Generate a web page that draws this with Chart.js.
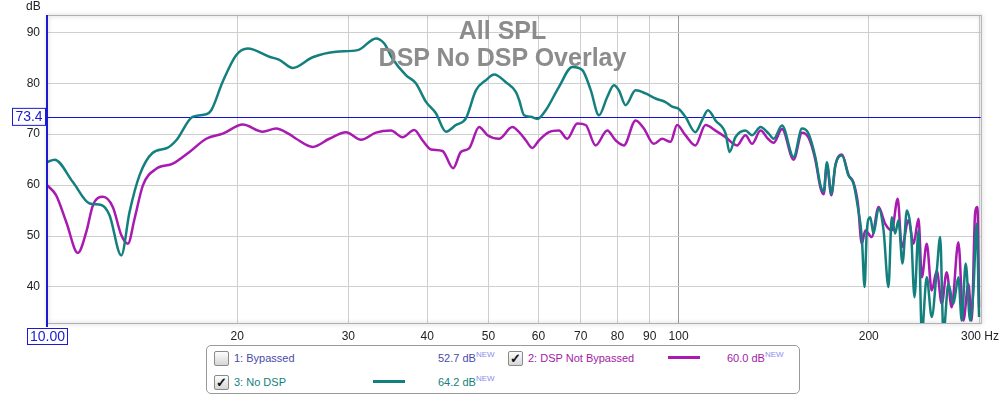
<!DOCTYPE html>
<html>
<head>
<meta charset="utf-8">
<script src="https://cdn.jsdelivr.net/npm/chart.js@4.4.1/dist/chart.umd.min.js"></script>
<style>
    body { margin: 0; background: #fff; font-family: "Liberation Sans", Arial, sans-serif; }
    #wrap { position: relative; width: 1005px; height: 396px; overflow: hidden; }
    #grafico { position: absolute; left: 0; top: 0; }
    .titulo { position: absolute; left: 0; width: 1005px; text-align: center; color: #8c8c8c;
              font-weight: bold; font-size: 25px; line-height: 25px; white-space: nowrap; }
    #legenda { position: absolute; left: 206px; top: 345px; width: 592px; height: 47px;
               border: 1px solid #9a9a9a; border-radius: 5px; background: #fff; }
    .item { position: absolute; font-size: 11px; line-height: 14px; white-space: nowrap; }
    .caixa { position: absolute; width: 13px; height: 13px; border: 1px solid #8a8a8a; border-radius: 2px;
             background: linear-gradient(#fdfdfd, #d6d6d6); font-size: 13px; line-height: 13px;
             text-align: center; font-weight: bold; color: #111; }
    .amostra { position: absolute; height: 3px; }
    sup { font-size: 8px; color: #8c8cf0; vertical-align: 5px; line-height: 0; }
</style>
</head>
<body>
<div id="wrap">
    <canvas id="grafico" width="1005" height="396"></canvas>
    <div class="titulo" style="top:18px">All SPL</div>
    <div class="titulo" style="top:45px">DSP No DSP Overlay</div>
    <div id="legenda">
        <div class="caixa" style="left:7px;top:5px"></div>
        <div class="item" style="left:27px;top:5px;color:#4a4aa8">1: Bypassed</div>
        <div class="item" style="left:231px;top:5px;color:#4a4aa8">52.7 dB<sup>NEW</sup></div>
        <div class="caixa" style="left:301px;top:5px">✓</div>
        <div class="item" style="left:321px;top:5px;color:#a21aa8">2: DSP Not Bypassed</div>
        <div class="amostra" style="left:461px;top:10px;width:32px;background:#a81ab0"></div>
        <div class="item" style="left:520px;top:5px;color:#a21aa8">60.0 dB<sup>NEW</sup></div>
        <div class="caixa" style="left:7px;top:29px">✓</div>
        <div class="item" style="left:27px;top:29px;color:#14807e">3: No DSP</div>
        <div class="amostra" style="left:166px;top:34px;width:32px;background:#14807e"></div>
        <div class="item" style="left:231px;top:29px;color:#14807e">64.2 dB<sup>NEW</sup></div>
    </div>
</div>
<script>
// curva 3: No DSP (teal)
const noDspFreq = [10.0, 10.28, 10.99, 11.68, 12.19, 12.56, 13.11, 13.51, 14.02, 14.69, 15.51, 16.02, 17.0, 17.87, 18.2,
    18.96, 19.93, 20.79, 22.49, 23.33, 24.48, 26.34, 28.68, 31.03, 33.18, 34.2, 35.24, 37.0, 38.37, 39.79, 41.28, 42.81,
    44.4, 46.05, 47.76, 49.53, 51.05, 53.27, 55.24, 55.91, 56.93, 58.34, 59.76, 61.61, 64.66, 67.87, 70.38, 72.57, 74.8,
    77.09, 78.99, 80.44, 82.42, 85.48, 88.65, 91.94, 95.35, 97.65, 100.0, 102.5, 106.3, 108.9, 111.3, 114.4, 118.7, 120.4,
    123.0, 127.6, 130.7, 134.8, 138.9, 141.4, 145.8, 152.1, 156.8, 160.6, 164.6, 167.7, 169.7, 171.7, 174.5, 177.1, 181.4,
    185.8, 189.2, 192.2, 195.0, 197.0, 198.6, 201.1, 203.5, 207.3, 211.1, 214.9, 217.5, 220.2, 222.9, 226.2, 229.8, 233.4,
    236.3, 239.8, 242.7, 247.1, 251.6, 256.3, 259.5, 262.6, 267.4, 272.3, 277.3, 280.7, 284.8, 289.4, 292.9, 296.4, 299.0];
const noDspSpl = [64.5, 65.0, 60.6, 56.4, 56.1, 54.1, 46.2, 54.7, 62.0, 66.3, 67.3, 68.8, 73.4, 73.9, 74.7,
    80.2, 85.5, 86.8, 85.2, 84.6, 83.0, 85.1, 86.2, 86.5, 88.8, 87.8, 84.8, 81.6, 80.0, 76.4, 74.1, 70.5,
    71.8, 73.1, 78.6, 80.6, 81.7, 80.2, 78.3, 76.7, 73.7, 73.4, 73.0, 74.7, 79.3, 83.2, 82.6, 78.7, 73.7,
    77.3, 79.6, 78.6, 75.7, 78.6, 78.0, 77.0, 76.3, 75.4, 75.0, 73.4, 70.4, 72.7, 74.7, 72.7, 70.1, 66.5,
    69.4, 70.7, 69.8, 71.4, 70.1, 69.1, 71.7, 65.5, 71.1, 70.1, 65.5, 60.0, 58.7, 64.5, 58.3, 63.9, 65.8,
    61.9, 60.3, 55.7, 49.8, 40.0, 51.1, 53.7, 50.5, 55.4, 51.1, 40.0, 53.7, 50.5, 53.1, 44.6, 55.0, 50.5,
    38.0, 51.1, 31.0, 41.9, 34.1, 43.2, 49.8, 31.0, 40.6, 36.7, 41.9, 33.4, 44.6, 33.4, 39.3, 52.4, 34.1];

// curva 2: DSP Not Bypassed (magenta)
const dspFreq = [10.0, 10.34, 10.73, 11.19, 11.54, 11.82, 12.26, 12.71, 13.11, 13.43, 13.76, 14.19, 14.89, 15.82, 16.81,
    17.87, 18.98, 20.42, 21.95, 23.05, 24.11, 24.8, 26.34, 27.99, 29.74, 31.42, 33.18, 35.04, 36.54, 38.14, 39.3, 40.53,
    42.28, 43.95, 45.21, 46.59, 48.32, 49.82, 51.95, 54.55, 55.91, 57.28, 58.68, 60.12, 62.35, 64.66, 66.65, 69.11, 71.26,
    73.89, 77.09, 79.47, 81.91, 85.48, 88.1, 91.37, 94.18, 97.1, 99.45, 102.5, 106.3, 110.3, 114.4, 118.7, 123.7, 127.6,
    130.7, 134.8, 138.5, 141.4, 145.8, 152.1, 156.8, 160.6, 164.6, 167.7, 169.7, 171.7, 174.5, 177.1, 181.4, 185.8, 189.2,
    192.2, 195.0, 197.5, 202.2, 207.3, 212.4, 217.5, 222.3, 225.6, 231.2, 235.5, 239.8, 242.7, 247.1, 251.6, 256.3, 261.0,
    265.7, 270.6, 277.3, 282.4, 287.6, 291.1, 294.7, 297.2, 299.0];
const dspSpl = [60.0, 58.0, 52.7, 46.7, 50.8, 56.0, 57.7, 55.7, 50.2, 48.5, 53.4, 60.0, 63.2, 64.2, 66.5,
    69.1, 70.1, 71.9, 70.5, 71.1, 70.1, 69.1, 67.5, 69.1, 70.4, 68.9, 70.3, 70.7, 69.4, 70.8, 68.8, 67.0,
    66.7, 63.3, 66.5, 67.2, 71.4, 69.8, 69.1, 71.4, 70.4, 68.8, 67.3, 68.8, 70.4, 70.7, 69.1, 72.1, 71.8,
    67.8, 70.7, 68.8, 67.8, 72.7, 71.1, 68.1, 69.1, 68.5, 71.8, 69.8, 67.8, 71.8, 70.7, 69.4, 67.8, 69.8,
    68.1, 70.7, 69.1, 68.3, 71.0, 65.0, 70.3, 69.3, 65.0, 59.5, 58.2, 64.0, 58.0, 63.9, 66.0, 62.0, 60.5,
    56.5, 48.5, 51.1, 49.8, 55.7, 52.4, 51.1, 57.3, 47.8, 53.1, 48.5, 53.4, 41.9, 48.5, 39.3, 43.2, 36.7,
    42.9, 36.0, 48.8, 33.4, 40.6, 33.4, 54.4, 55.7, 36.0];

const freqTicks = [20, 30, 40, 50, 60, 70, 80, 90, 100, 200, 300];
const splTicks = [40, 50, 60, 70, 80, 90];
const cursorFreq = 10.00;
const cursorSpl = 73.4;

const azulCursor = '#1a1ad0';

const moldura = {
    id: 'moldura',
    beforeDatasetsDraw(chart) {
        const { ctx, chartArea: a, scales } = chart;
        // linha horizontal do cursor
        const yc = Math.round(scales.y.getPixelForValue(cursorSpl)) + 0.5;
        ctx.save();
        ctx.strokeStyle = '#1212d8';
        ctx.lineWidth = 1;
        ctx.beginPath();
        ctx.moveTo(a.left, yc);
        ctx.lineTo(a.right, yc);
        ctx.stroke();
        ctx.restore();
    },
    afterDatasetsDraw(chart) {
        const { ctx, chartArea: a, scales } = chart;
        ctx.save();
        // moldura com sombra
        ctx.shadowColor = 'rgba(0,0,0,0.35)';
        ctx.shadowBlur = 4;
        ctx.strokeStyle = '#b0b0b0';
        ctx.lineWidth = 1;
        ctx.strokeRect(a.left + 0.5, a.top - 0.5, a.right - a.left, a.bottom - a.top + 1);
        ctx.shadowBlur = 0;
        ctx.shadowColor = 'transparent';

        // eixo vertical do cursor
        const xc = scales.x.getPixelForValue(cursorFreq);
        ctx.strokeStyle = azulCursor;
        ctx.lineWidth = 2;
        ctx.beginPath();
        ctx.moveTo(xc, a.top - 1);
        ctx.lineTo(xc, a.bottom + 4);
        ctx.stroke();

        // caixas dos valores do cursor
        ctx.font = '14px "Liberation Sans", Arial, sans-serif';
        ctx.textBaseline = 'middle';
        ctx.textAlign = 'center';
        const yc = scales.y.getPixelForValue(cursorSpl);
        ctx.fillStyle = '#fff';
        ctx.fillRect(12.5, yc - 8.5, 33, 17);
        ctx.lineWidth = 1;
        ctx.strokeRect(12.5, yc - 8.5, 33, 17);
        ctx.fillStyle = azulCursor;
        ctx.fillText(cursorSpl.toFixed(1), 29, yc + 0.5);

        const xb = Math.round(xc - 20) + 0.5;
        ctx.fillStyle = '#fff';
        ctx.fillRect(xb, a.bottom + 5.5, 40, 16);
        ctx.strokeRect(xb, a.bottom + 5.5, 40, 16);
        ctx.fillStyle = azulCursor;
        ctx.fillText(cursorFreq.toFixed(2), xb + 20, a.bottom + 14);

        // unidade do eixo y
        ctx.fillStyle = '#222';
        ctx.font = '12px "Liberation Sans", Arial, sans-serif';
        ctx.textAlign = 'left';
        ctx.fillText('dB', 26, 7);
        ctx.restore();
    }
};

function pontos(freqs, spls) {
    return freqs.map((f, i) => ({ x: f, y: spls[i] }));
}

function gerarGrafico() {
    const data = {
        datasets: [{
            label: '3: No DSP',
            data: pontos(noDspFreq, noDspSpl),
            borderColor: '#14807e',
            borderWidth: 2.5,
            pointRadius: 0,
            cubicInterpolationMode: 'monotone',
            clip: 0
        }, {
            label: '2: DSP Not Bypassed',
            data: pontos(dspFreq, dspSpl),
            borderColor: '#a81ab0',
            borderWidth: 2.5,
            pointRadius: 0,
            cubicInterpolationMode: 'monotone',
            clip: 0
        }]
    };

    const fonteEixo = { family: '"Liberation Sans", Arial, sans-serif', size: 12 };

    const config = {
        type: 'line',
        data,
        options: {
            responsive: false,
            animation: false,
            devicePixelRatio: 1,
            layout: { padding: { left: 0, top: 16, right: 22, bottom: 53 } },
            scales: {
                x: {
                    type: 'logarithmic',
                    min: 10,
                    max: 301,
                    afterBuildTicks: (s) => { s.ticks = freqTicks.map(v => ({ value: v })); },
                    afterFit: (s) => { s.height = 20; },
                    ticks: {
                        autoSkip: false,
                        maxRotation: 0,
                        padding: 6,
                        color: '#222',
                        font: fonteEixo,
                        callback: (v) => v === 300 ? '300 Hz' : String(v)
                    },
                    grid: {
                        drawTicks: false,
                        color: (ctx) => ctx.tick && ctx.tick.value === 100 ? '#9c9c9c' : '#cfcfcf',
                        lineWidth: 1
                    },
                    border: { display: false }
                },
                y: {
                    min: 32.93,
                    max: 93.2,
                    afterBuildTicks: (s) => { s.ticks = splTicks.map(v => ({ value: v })); },
                    afterFit: (s) => { s.width = 47; },
                    ticks: { padding: 7, color: '#222', font: fonteEixo },
                    grid: { drawTicks: false, color: '#cfcfcf', lineWidth: 1 },
                    border: { display: false }
                }
            },
            plugins: {
                legend: { display: false },
                tooltip: { enabled: false }
            }
        },
        plugins: [moldura]
    };

    const ctx = document.getElementById('grafico');
    return new Chart(ctx, config);
}

document.addEventListener('DOMContentLoaded', () => {
    gerarGrafico();
});
</script>
</body>
</html>
